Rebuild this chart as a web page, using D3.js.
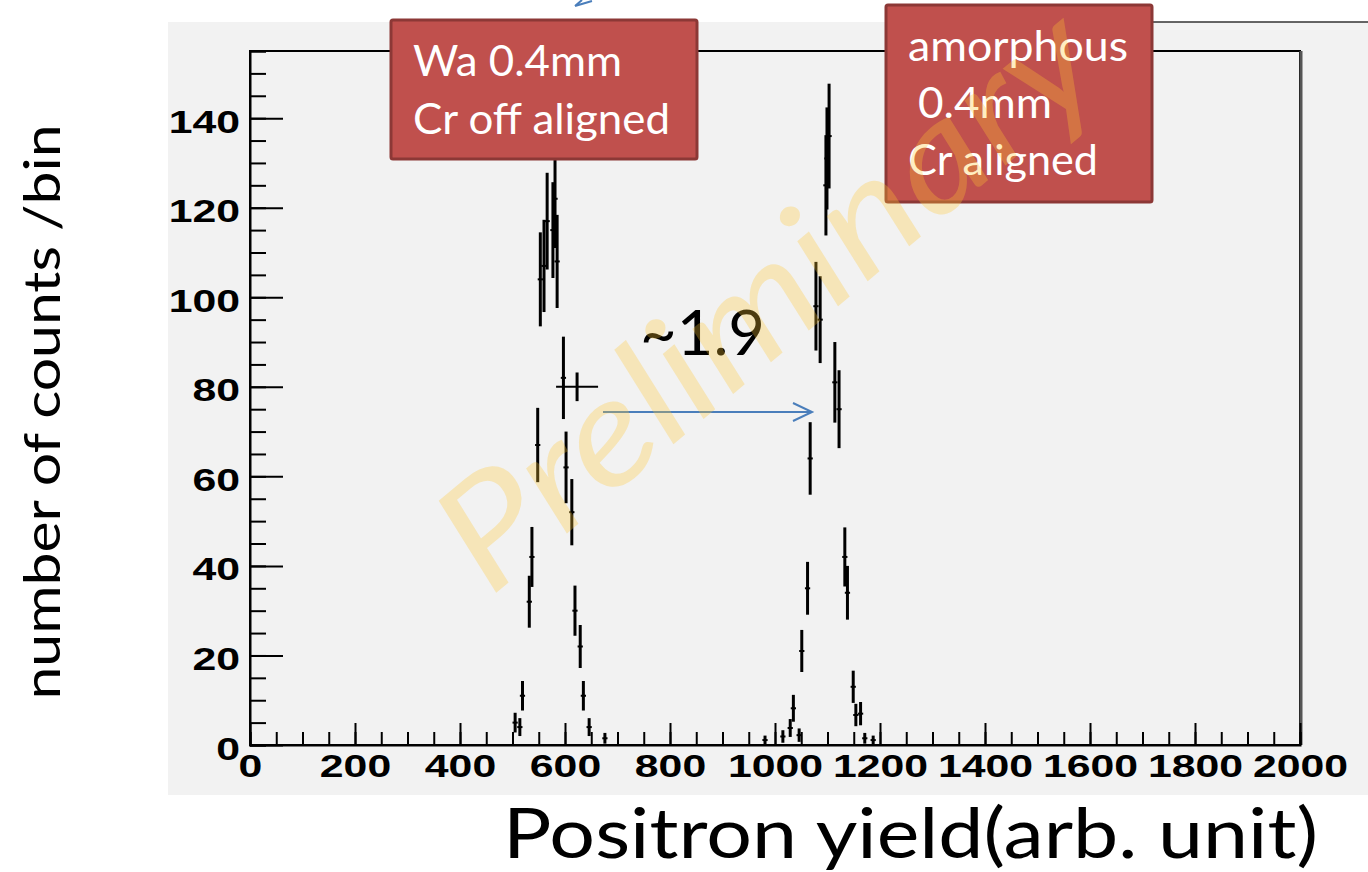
<!DOCTYPE html>
<html>
<head>
    <title>Positron yield</title>
    <script src="https://d3js.org/d3.v7.min.js"></script>
    <style>
        body { margin: 0; background: #fff; }
        .bar { stroke: #000; }
        .tick line { stroke: #000; stroke-width: 2; }
        .lbl { font-family: "Liberation Sans", Arial, sans-serif; font-weight: bold; font-size: 31px; fill: #000; }
        .office { font-family: Lato, "Open Sans", sans-serif; }
    </style>
</head>
<body>
    <div id="chart"></div>
    <script>
        // histogram bins (bin centre, counts, error)
        const binX   = [505, 514, 519, 532, 537, 548, 553, 560, 566, 577, 581, 585, 597, 602, 613, 619, 623, 629, 635, 646, 676,
                        981, 1015, 1029, 1035, 1046, 1051, 1062, 1067, 1078, 1086, 1097, 1099, 1103, 1114, 1122, 1133, 1138, 1149, 1154, 1163, 1171, 1187];
        const counts = [5, 4, 11, 32, 42, 67, 104, 107, 117, 115, 122, 108, 82, 62, 52, 30, 80, 22, 11, 4, 1.5,
                        1.1, 1.9, 3.8, 8.2, 2.2, 21, 35, 64, 98, 95, 125, 131, 136, 81, 75, 42, 34, 13, 6.7, 7, 1.5, 1.1];
        const errY   = [2.2, 2.0, 3.3, 5.8, 6.7, 8.3, 10.5, 10.3, 10.8, 10.7, 11.0, 10.4, 9.2, 8.0, 7.4, 5.6, 3.2, 4.8, 3.3, 2.0, 1.2,
                        1.0, 1.4, 2.0, 3.0, 1.5, 4.7, 5.9, 8.1, 9.9, 9.7, 11.2, 11.4, 11.7, 9.0, 8.7, 6.6, 6.0, 3.6, 2.5, 2.6, 1.2, 1.0];
        const errX   = [5, 5, 5, 5, 5, 5, 5, 5, 5, 5, 5, 5, 5, 5, 5, 5, 40, 5, 5, 5, 5,
                        5, 5, 5, 5, 5, 5, 5, 5, 5, 5, 5, 5, 5, 5, 5, 5, 5, 5, 5, 5, 5, 5];

        const xMajor = [0, 200, 400, 600, 800, 1000, 1200, 1400, 1600, 1800, 2000];
        const xMinor = d3.range(0, 2001, 50);
        const yMajor = [0, 20, 40, 60, 80, 100, 120, 140];
        const yMinor = d3.range(0, 156, 5);

        const W = 1368, H = 872;
        const x = d3.scaleLinear().domain([0, 2000]).range([250, 1300]);
        const y = d3.scaleLinear().domain([0, 155]).range([745, 51]);

        const svg = d3.select("#chart").append("svg")
            .attr("width", W).attr("height", H);

        // pad
        svg.append("rect").attr("x", 168).attr("y", 22).attr("width", 1200).attr("height", 773)
            .attr("fill", "#f2f2f2");
        svg.append("line").attr("x1", 1150).attr("x2", 1368).attr("y1", 22).attr("y2", 22)
            .attr("stroke", "#333").attr("stroke-width", 1.5);

        // frame
        svg.append("rect").attr("x", x(0)).attr("y", y(155))
            .attr("width", x(2000) - x(0)).attr("height", y(0) - y(155))
            .attr("fill", "none").attr("stroke", "#000").attr("stroke-width", 2);
        svg.append("line").attr("x1", x(2000) + 1).attr("x2", x(2000) + 1)
            .attr("y1", y(155)).attr("y2", y(0))
            .attr("stroke", "#555").attr("stroke-width", 3);

        // x axis: minor then major ticks pointing inward
        svg.append("g").attr("transform", `translate(0,${y(0)})`)
            .call(d3.axisBottom(x).tickValues(xMinor).tickSize(-13).tickFormat(""))
            .call(g => g.select(".domain").attr("stroke", "#000").attr("stroke-width", 2));
        const gx = svg.append("g").attr("transform", `translate(0,${y(0)})`)
            .call(d3.axisBottom(x).tickValues(xMajor).tickSize(-22).tickFormat(d3.format("d")))
            .call(g => g.select(".domain").remove());
        gx.selectAll("text")
            .attr("class", "lbl").attr("x", null).attr("y", null).attr("dy", null)
            .attr("text-anchor", "middle")
            .attr("transform", "translate(0,32) scale(1.38,1)");

        // y axis
        svg.append("g").attr("transform", `translate(${x(0)},0)`)
            .call(d3.axisRight(y).tickValues(yMinor).tickSize(16).tickFormat(""))
            .call(g => g.select(".domain").attr("stroke", "#000").attr("stroke-width", 2));
        const gy = svg.append("g").attr("transform", `translate(${x(0)},0)`)
            .call(d3.axisRight(y).tickValues(yMajor).tickSize(33).tickFormat(d3.format("d")))
            .call(g => g.select(".domain").remove());
        gy.selectAll("text")
            .attr("class", "lbl").attr("x", null).attr("y", null).attr("dy", null)
            .attr("text-anchor", "end")
            .attr("transform", "translate(-10,14) scale(1.38,1)");
        svg.selectAll(".domain").attr("fill", "none");

        // error bars
        const clip = svg.append("clipPath").attr("id", "frame")
            .append("rect").attr("x", x(0)).attr("y", y(155))
            .attr("width", x(2000) - x(0)).attr("height", y(0) - y(155));
        const pts = binX.map((b, i) => ({ b, v: counts[i], ey: errY[i], ex: errX[i] }));
        const gp = svg.append("g").attr("clip-path", "url(#frame)");
        gp.selectAll("line.v").data(pts).enter().append("line")
            .attr("class", "bar v")
            .attr("x1", d => x(d.b)).attr("x2", d => x(d.b))
            .attr("y1", d => y(Math.max(0, d.v - d.ey))).attr("y2", d => y(d.v + d.ey))
            .attr("stroke-width", 3);
        gp.selectAll("line.h").data(pts).enter().append("line")
            .attr("class", "bar h")
            .attr("x1", d => x(d.b - d.ex)).attr("x2", d => x(d.b + d.ex))
            .attr("y1", d => y(d.v)).attr("y2", d => y(d.v))
            .attr("stroke-width", 2);

        // axis titles
        svg.append("text").attr("class", "office")
            .attr("transform", "translate(60,412) rotate(-90)")
            .attr("text-anchor", "middle").attr("font-size", 50)
            .attr("textLength", 575).attr("lengthAdjust", "spacingAndGlyphs")
            .text("number of counts /bin");
        svg.append("text").attr("class", "office")
            .attr("x", 503).attr("y", 858).attr("font-size", 70)
            .attr("textLength", 815).attr("lengthAdjust", "spacingAndGlyphs")
            .text("Positron yield(arb. unit)");

        // ratio annotation
        const blue = "#4a7ebb";
        svg.append("text").attr("class", "office")
            .attr("x", 640).attr("y", 355).attr("font-size", 62)
            .attr("textLength", 125).attr("lengthAdjust", "spacingAndGlyphs")
            .text("~1.9");
        svg.append("path")
            .attr("d", "M603,412 L812,412 M793,403 L812,412 L793,421")
            .attr("fill", "none").attr("stroke", blue).attr("stroke-width", 2);
        svg.append("path")
            .attr("d", "M592,1 L575,6 M575,6 L582,0")
            .attr("fill", "none").attr("stroke", blue).attr("stroke-width", 2);

        // label boxes
        const boxes = [
            { x: 391, y: 20, w: 306, h: 139, lines: [["Wa 0.4mm", 413, 76, 209], ["Cr off aligned", 413, 134, 257]] },
            { x: 886, y: 5, w: 266, h: 197, lines: [["amorphous", 908, 61, 220], ["0.4mm", 918, 118, 134], ["Cr aligned", 908, 175, 190]] }
        ];
        boxes.forEach(bx => {
            svg.append("rect").attr("x", bx.x).attr("y", bx.y).attr("width", bx.w).attr("height", bx.h)
                .attr("rx", 2).attr("fill", "#c0504d").attr("stroke", "#8c3836").attr("stroke-width", 3);
            bx.lines.forEach(l => {
                svg.append("text").attr("class", "office")
                    .attr("x", l[1]).attr("y", l[2]).attr("font-size", 43).attr("fill", "#fff")
                    .attr("textLength", l[3]).attr("lengthAdjust", "spacingAndGlyphs")
                    .text(l[0]);
            });
        });

        // watermark
        svg.append("text").attr("class", "office")
            .attr("transform", "translate(800,338) rotate(-40)")
            .attr("text-anchor", "middle").attr("font-size", 150).attr("font-style", "italic")
            .attr("fill", "rgb(255,200,50)").attr("fill-opacity", 0.3)
            .attr("textLength", 810).attr("lengthAdjust", "spacingAndGlyphs")
            .text("Preliminary");
    </script>
</body>
</html>
